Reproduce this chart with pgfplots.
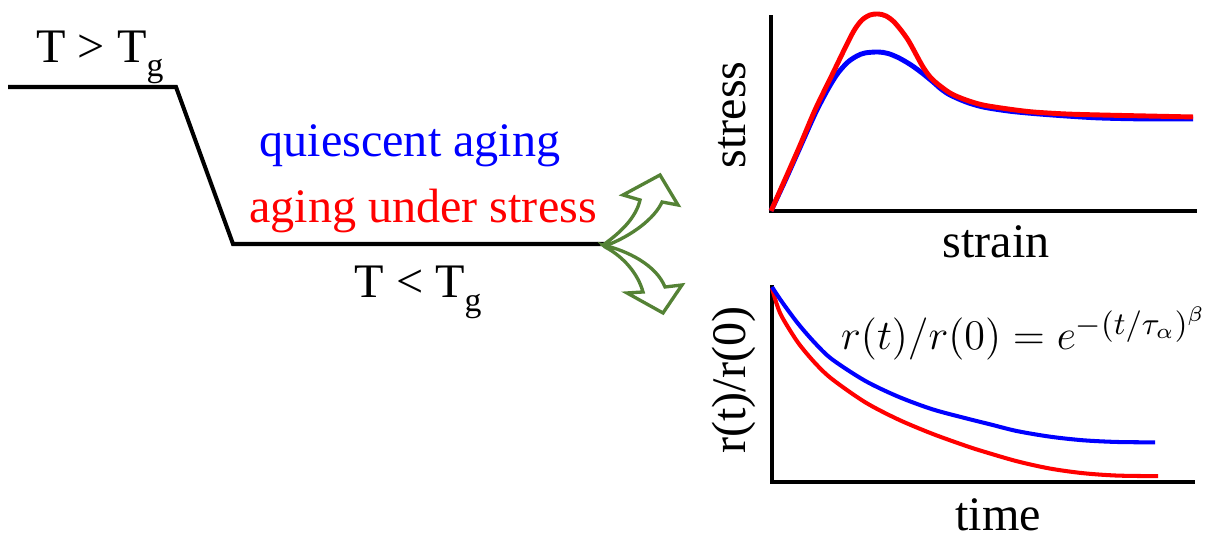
\documentclass[border=0pt]{standalone}
\usepackage{fontspec}
\setmainfont{Liberation Serif}
\newfontfamily\timesfont{Liberation Serif}
\usepackage{pgfplots}
\pgfplotsset{compat=1.18}
\definecolor{arrowgreen}{RGB}{84,130,53}
\newcommand{\lbl}{\timesfont\fontsize{13.7}{16}\selectfont}
\newcommand{\sub}[1]{\raisebox{-0.28em}{\fontsize{9.6}{10}\selectfont #1}}

\begin{document}
\begin{tikzpicture}
% canvas axis: the cooling protocol, the captions and the arrows
\begin{axis}[
  scale only axis, width=121.4mm, height=54mm,
  xmin=0, xmax=1214, ymin=0, ymax=540, y dir=reverse,
  hide axis, clip=false]
  % temperature protocol: T > Tg, quench, hold below Tg
  \addplot[black, line width=1.15pt, line join=miter] coordinates
    {(8,87) (176,87) (233,244) (604,244)};
  \node[anchor=base, font=\lbl] at (axis cs:100,63) {T > T\sub{g}};
  \node[anchor=base, font=\lbl] at (axis cs:418,298) {T < T\sub{g}};
  \node[anchor=base, font=\lbl, text=blue] at (axis cs:410,157) {quiescent aging};
  \node[anchor=base, font=\lbl, text=red] at (axis cs:423,223) {aging under stress};
  % curved block arrows to the two responses
  \draw[arrowgreen, line width=0.95pt, fill=white, line join=miter]
    (axis cs:603,245) .. controls (axis cs:620,233) and (axis cs:636,218) .. (axis cs:640,200)
    -- (axis cs:623,195) -- (axis cs:660,175) -- (axis cs:678,205) -- (axis cs:662,202)
    .. controls (axis cs:655,218) and (axis cs:632,236) .. (axis cs:605,246) -- cycle;
  \draw[arrowgreen, line width=0.95pt, fill=white, line join=miter]
    (axis cs:603,245) .. controls (axis cs:628,251) and (axis cs:656,265) .. (axis cs:665,287)
    -- (axis cs:682,285) -- (axis cs:663,313) -- (axis cs:627,293) -- (axis cs:643,292)
    .. controls (axis cs:638,274) and (axis cs:624,257) .. (axis cs:605,247) -- cycle;
  % axis titles of the two small panels
  \node[anchor=base, rotate=90, font=\lbl] at (axis cs:745,115) {stress};
  \node[anchor=base, font=\lbl] at (axis cs:996,258) {strain};
  \node[anchor=base, rotate=90, font=\lbl] at (axis cs:745,380) {r(t)/r(0)};
  \node[anchor=base, font=\lbl] at (axis cs:998,531) {time};
  \node[anchor=base, inner sep=0pt] at (axis cs:1024,350)
    {\fontsize{12.2}{14}\selectfont $r(t)/r(0) = e^{-(t/\tau_\alpha)^\beta}$};
  \coordinate (topSW) at (axis cs:771,211);
  \coordinate (botSW) at (axis cs:772,482);
  \coordinate (bbA) at (axis cs:0,0);
  \coordinate (bbB) at (axis cs:1214,540);
\end{axis}

% stress-strain response
\begin{axis}[
  at={(topSW)}, anchor=south west,
  scale only axis, width=42.4mm, height=19.4mm,
  xmin=0, xmax=424, ymin=0, ymax=194,
  axis lines=left, axis line style={-, line width=1pt, line cap=rect},
  xtick=\empty, ytick=\empty, clip=false]
  \addplot[blue, line width=1.4pt, smooth] coordinates {
    (0,0) (14,30) (27,59) (44,97) (57,122) (67,138) (77,149) (86,155)
    (94,158) (107,159) (117,157.5) (128,153) (140,146) (151,138) (162,129)
    (170,122) (179,116) (195,109) (212,104) (237,100) (262,97.5) (295,95)
    (329,93) (375,92) (422,92)};
  \addplot[red, line width=1.4pt, smooth] coordinates {
    (0,0) (27,61) (44,101) (61,136) (77,169) (84,182) (91,191) (99,196)
    (107,197) (115,195) (124,188) (137,171) (152,144) (162,131) (179,118)
    (195,111) (212,106) (237,102) (262,99) (295,97) (329,96) (375,95)
    (422,94)};
\end{axis}

% relaxation of r(t)/r(0)
\begin{axis}[
  at={(botSW)}, anchor=south west,
  scale only axis, width=42.1mm, height=19.5mm,
  xmin=0, xmax=421, ymin=0, ymax=195,
  axis lines=left, axis line style={-, line width=1pt, line cap=rect},
  xtick=\empty, ytick=\empty, clip=false]
  \addplot[red, line width=1.15pt, smooth] coordinates {
    (0,194) (4,180) (10,165) (26,139.4) (43,119) (60,102.9) (93,79.8)
    (126,62.6) (160,48.3) (193,36.4) (211,30.6) (245,20.7) (278,13.4)
    (311,8.8) (345,6.4) (386,5.8)};
  \addplot[blue, line width=1.15pt, smooth] coordinates {
    (0,195) (10,180) (26,158.4) (43,138.9) (60,122.7) (93,101.2)
    (126,85.4) (160,72.8) (193,63.9) (219,57.4) (245,50.9) (278,45.3)
    (311,41.7) (345,40) (383,39.6)};
\end{axis}
\pgfresetboundingbox
\path (bbA) rectangle (bbB);
\end{tikzpicture}
\end{document}
